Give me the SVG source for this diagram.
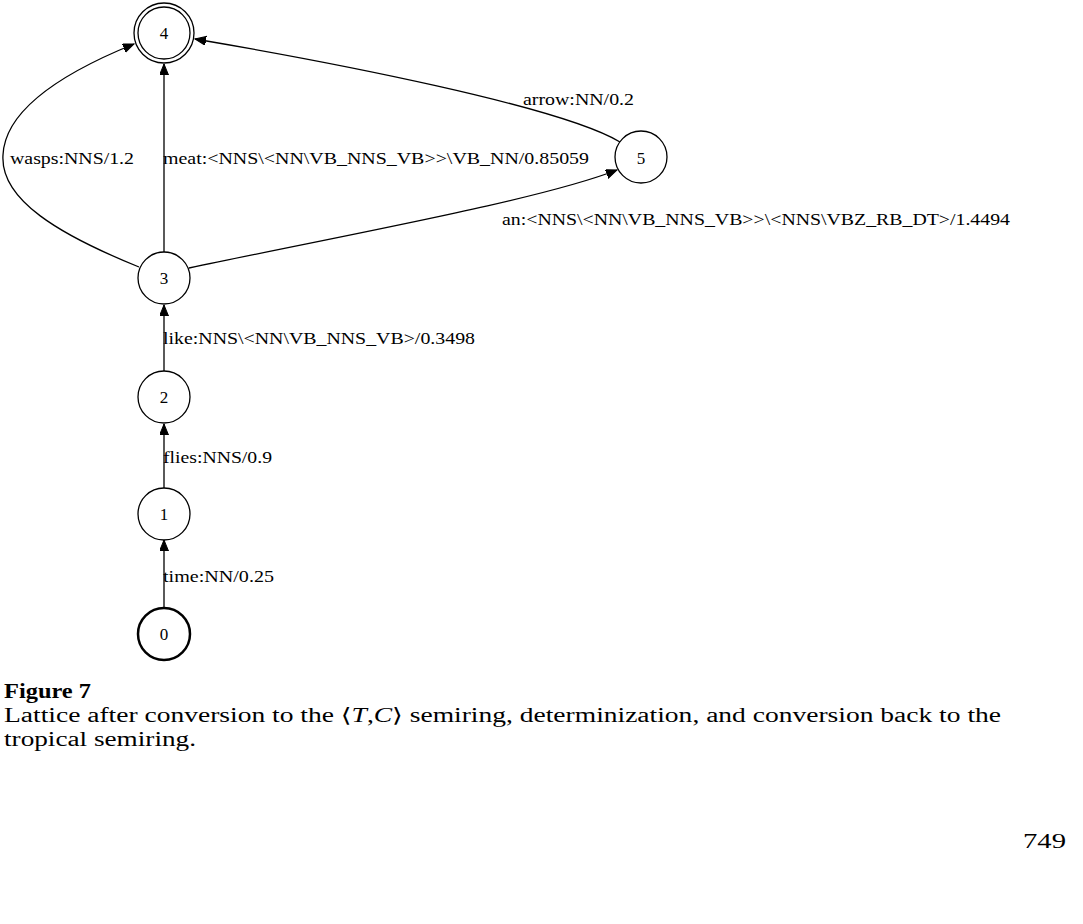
<svg xmlns="http://www.w3.org/2000/svg" width="1083" height="924" viewBox="0 0 1083 924">
<style>
.n{fill:#fff;stroke:#000;stroke-width:1.3}
.n0{fill:#fff;stroke:#000;stroke-width:2.5}
.nt{font-family:"Liberation Serif","Times New Roman",serif;font-size:17px;fill:#000;text-anchor:middle}
.e{fill:none;stroke:#000;stroke-width:1.3}
.lb{font-family:"Liberation Serif","Times New Roman",serif;font-size:16px;fill:#000}
.cap{font-family:"Liberation Serif","DejaVu Serif",serif;font-size:20px;fill:#000}
</style>
<defs>
<marker id="ah" markerUnits="userSpaceOnUse" markerWidth="12" markerHeight="10" refX="11" refY="4.5" orient="auto">
<path d="M0,0 L11,4.5 L0,9 z" fill="#000" stroke="#000" stroke-width="1"/>
</marker>
</defs>
<rect width="1083" height="924" fill="#fff"/>
<g id="edges">
<path class="e" d="M164,607 L164,540" marker-end="url(#ah)"/>
<path class="e" d="M164,488 L164,424" marker-end="url(#ah)"/>
<path class="e" d="M164,371 L164,305" marker-end="url(#ah)"/>
<path class="e" d="M164,252 L164,64" marker-end="url(#ah)"/>
<path class="e" d="M139,267 C60,235 0,200 3,155 C5,110 60,74 134,44" marker-end="url(#ah)"/>
<path class="e" d="M620,142 C560,106 330,62 195,39" marker-end="url(#ah)"/>
<path class="e" d="M189,268 C350,234 540,200 617,170" marker-end="url(#ah)"/>
<text class="lb" x="163" y="582" textLength="111" lengthAdjust="spacingAndGlyphs">time:NN/0.25</text>
<text class="lb" x="163" y="463" textLength="109" lengthAdjust="spacingAndGlyphs">flies:NNS/0.9</text>
<text class="lb" x="163" y="344" textLength="312" lengthAdjust="spacingAndGlyphs">like:NNS\&lt;NN\VB_NNS_VB&gt;/0.3498</text>
<text class="lb" x="10" y="164" textLength="124" lengthAdjust="spacingAndGlyphs">wasps:NNS/1.2</text>
<text class="lb" x="163" y="164" textLength="426" lengthAdjust="spacingAndGlyphs">meat:&lt;NNS\&lt;NN\VB_NNS_VB&gt;&gt;\VB_NN/0.85059</text>
<text class="lb" x="523" y="105" textLength="111" lengthAdjust="spacingAndGlyphs">arrow:NN/0.2</text>
<text class="lb" x="502" y="225" textLength="508" lengthAdjust="spacingAndGlyphs">an:&lt;NNS\&lt;NN\VB_NNS_VB&gt;&gt;\&lt;NNS\VBZ_RB_DT&gt;/1.4494</text>
</g>
<g id="node4">
<circle class="n" cx="164" cy="33" r="30"/>
<circle class="n" cx="164" cy="33" r="26"/>
<text class="nt" x="164" y="39">4</text>
</g>
<g id="node5">
<circle class="n" cx="641" cy="157" r="26"/>
<text class="nt" x="641" y="164">5</text>
</g>
<g id="node3">
<circle class="n" cx="164" cy="278" r="26"/>
<text class="nt" x="164" y="284">3</text>
</g>
<g id="node2">
<circle class="n" cx="164" cy="397" r="26"/>
<text class="nt" x="164" y="403">2</text>
</g>
<g id="node1">
<circle class="n" cx="164" cy="514" r="26"/>
<text class="nt" x="164" y="520">1</text>
</g>
<g id="node0">
<circle class="n0" cx="164" cy="634" r="26"/>
<text class="nt" x="164" y="640">0</text>
</g>
<g id="caption">
<text class="cap" x="4" y="698" font-weight="bold" textLength="87" lengthAdjust="spacingAndGlyphs">Figure 7</text>
<text class="cap" x="4" y="722" textLength="997" lengthAdjust="spacingAndGlyphs">Lattice after conversion to the <tspan font-family="DejaVu Sans">⟨</tspan><tspan font-style="italic">T</tspan>,<tspan font-style="italic">C</tspan><tspan font-family="DejaVu Sans">⟩</tspan> semiring, determinization, and conversion back to the</text>
<text class="cap" x="4" y="746" textLength="192" lengthAdjust="spacingAndGlyphs">tropical semiring.</text>
<text class="cap" x="1023" y="848" font-size="25" textLength="43" lengthAdjust="spacingAndGlyphs">749</text>
</g>
</svg>
